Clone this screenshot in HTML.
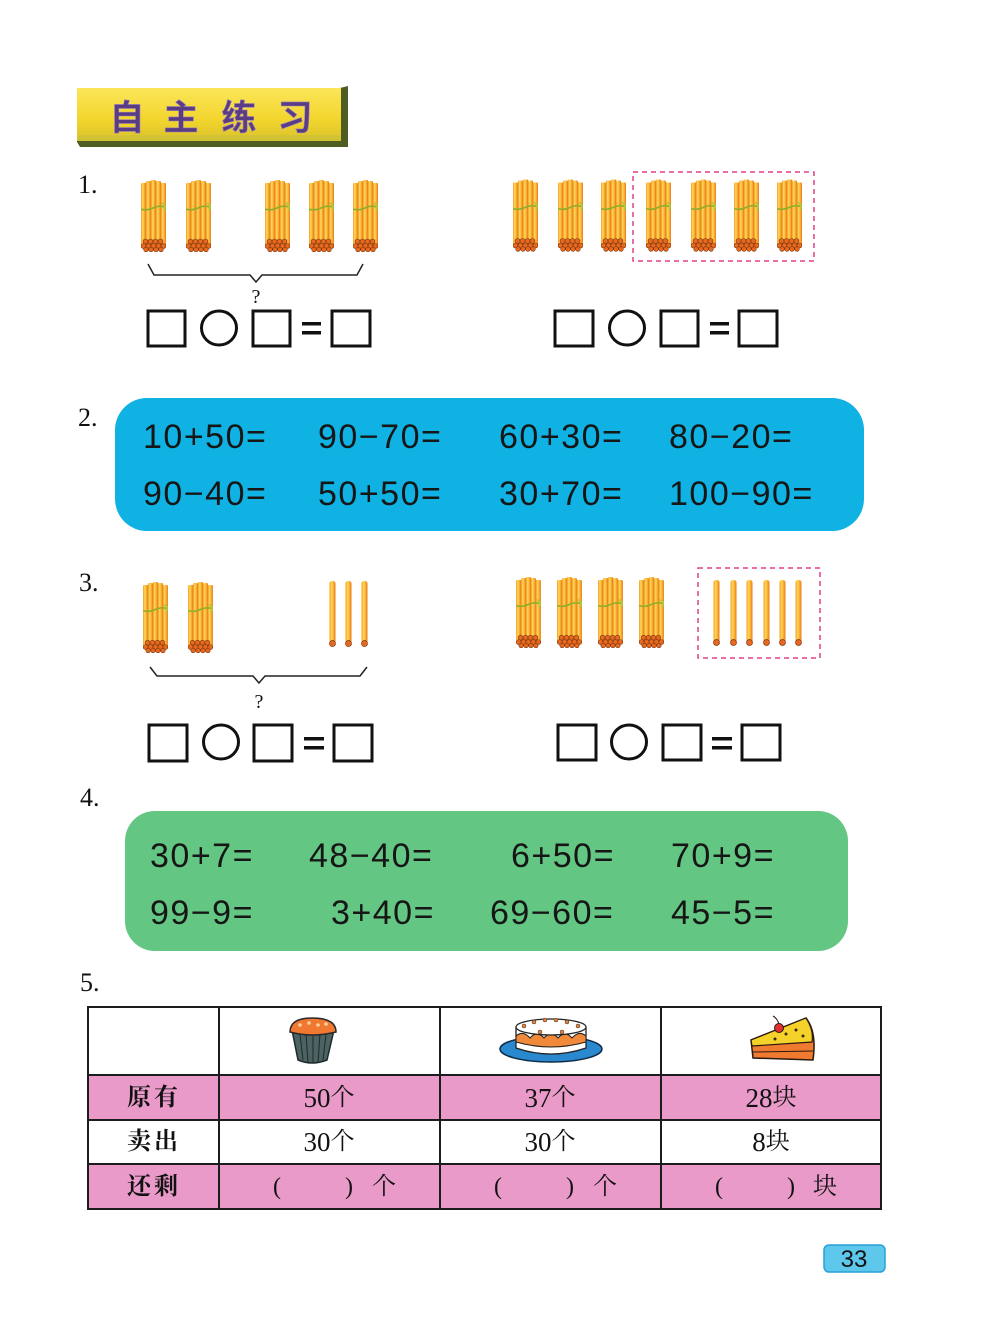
<!DOCTYPE html>
<html><head><meta charset="utf-8"><style>
html,body{margin:0;padding:0;background:#fff;}
svg{display:block;}
</style></head><body>
<svg width="1000" height="1336" viewBox="0 0 1000 1336" xmlns="http://www.w3.org/2000/svg">
<defs>
<linearGradient id="sg" x1="0" x2="1" y1="0" y2="0">
<stop offset="0" stop-color="#f29a22"/><stop offset="0.35" stop-color="#ffd85a"/><stop offset="0.7" stop-color="#f7aa2c"/><stop offset="1" stop-color="#e6781c"/>
</linearGradient>
<linearGradient id="ty" x1="0" x2="0" y1="0" y2="1">
<stop offset="0" stop-color="#fbe659"/><stop offset="0.6" stop-color="#f3d52e"/><stop offset="1" stop-color="#d9c22a"/>
</linearGradient>
<symbol id="bun" viewBox="0 0 25 72">
<rect x="0" y="3" width="25" height="62" rx="2" fill="#f3a02a"/>
<rect x="0" y="3" width="5" height="62" rx="1" fill="url(#sg)"/>
<rect x="5" y="1" width="5" height="64" rx="1" fill="url(#sg)"/>
<rect x="10" y="0" width="5" height="65" rx="1" fill="url(#sg)"/>
<rect x="15" y="1" width="5" height="64" rx="1" fill="url(#sg)"/>
<rect x="20" y="3" width="5" height="62" rx="1" fill="url(#sg)"/>
<path d="M0 29 Q6 31 12 28 T24 27" stroke="#8fae2a" stroke-width="1.6" fill="none"/>
<path d="M21 23 q5 2 2 8" stroke="#b5c83a" stroke-width="1.8" fill="none"/>
<g fill="#e8681e" stroke="#7a3510" stroke-width="0.6">
<circle cx="4.5" cy="61.5" r="2.5"/><circle cx="9.5" cy="61.5" r="2.5"/><circle cx="14.5" cy="61.5" r="2.5"/><circle cx="19.5" cy="61.5" r="2.5"/>
<circle cx="2.5" cy="66" r="2.5"/><circle cx="7.5" cy="66" r="2.5"/><circle cx="12.5" cy="66" r="2.5"/><circle cx="17.5" cy="66" r="2.5"/><circle cx="22.5" cy="66" r="2.5"/>
<circle cx="5" cy="69.5" r="2.3"/><circle cx="10" cy="69.5" r="2.3"/><circle cx="15" cy="69.5" r="2.3"/><circle cx="20" cy="69.5" r="2.3"/>
</g>
</symbol>
<symbol id="stk" viewBox="0 0 7 66">
<rect x="0.5" y="0" width="6" height="63" rx="2.5" fill="url(#sg)"/>
<circle cx="3.5" cy="62.5" r="3" fill="#e8681e" stroke="#7a3510" stroke-width="0.7"/>
</symbol>
</defs>

<!-- Title banner -->
<polygon points="77,88 340,88 348,86 348,147 80,147 77,142" fill="#4f5d22"/>
<rect x="77" y="88" width="264" height="53" fill="url(#ty)"/>
<rect x="77" y="135" width="264" height="6" fill="#c9c23a" opacity="0.6"/>
<g font-family="'Noto Sans CJK SC','WenQuanYi Zen Hei',sans-serif" font-weight="bold" font-size="35" fill="#5a3c85" stroke="#9a80c0" stroke-width="0.6">
<text x="127" y="130" text-anchor="middle">自</text>
<text x="181" y="130" text-anchor="middle">主</text>
<text x="239" y="130" text-anchor="middle">练</text>
<text x="295" y="130" text-anchor="middle">习</text>
</g>

<!-- Numbers -->
<g font-family="'Liberation Serif',serif" font-size="26" fill="#111">
<text x="78" y="193">1.</text>
<text x="78" y="426">2.</text>
<text x="79" y="591">3.</text>
<text x="80" y="806">4.</text>
<text x="80" y="991">5.</text>
</g>

<!-- Item 1 left -->
<use href="#bun" x="141" y="180" width="25" height="72"/>
<use href="#bun" x="186" y="180" width="25" height="72"/>
<use href="#bun" x="265" y="180" width="25" height="72"/>
<use href="#bun" x="309" y="180" width="25" height="72"/>
<use href="#bun" x="353" y="180" width="25" height="72"/>
<path d="M148 264 L154 275 L250 275 L256 282 L262 275 L357 275 L363 264" stroke="#222" stroke-width="1.5" fill="none"/>
<text x="256" y="303" font-family="'Liberation Serif',serif" font-size="20" text-anchor="middle" fill="#111">?</text>

<g stroke="#111" stroke-width="3" fill="none">
<rect x="148" y="311" width="37" height="35"/>
<ellipse cx="219" cy="328" rx="17.5" ry="17"/>
<rect x="253" y="311" width="37" height="35"/>
<rect x="332" y="311" width="38" height="35"/>
</g>
<rect x="302" y="322" width="19" height="3.5" fill="#111"/>
<rect x="302" y="331" width="19" height="3.5" fill="#111"/>

<!-- Item 1 right -->
<use href="#bun" x="513" y="179" width="25" height="73"/>
<use href="#bun" x="558" y="179" width="25" height="73"/>
<use href="#bun" x="601" y="179" width="25" height="73"/>
<use href="#bun" x="646" y="179" width="25" height="73"/>
<use href="#bun" x="691" y="179" width="25" height="73"/>
<use href="#bun" x="734" y="179" width="25" height="73"/>
<use href="#bun" x="777" y="179" width="25" height="73"/>
<rect x="633" y="172" width="181" height="89" fill="none" stroke="#e0408a" stroke-width="1.5" stroke-dasharray="5 4"/>
<g stroke="#111" stroke-width="3" fill="none">
<rect x="555" y="311" width="38" height="35"/>
<ellipse cx="627" cy="328" rx="17.5" ry="17"/>
<rect x="661" y="311" width="37" height="35"/>
<rect x="739" y="311" width="38" height="35"/>
</g>
<rect x="710" y="322" width="19" height="3.5" fill="#111"/>
<rect x="710" y="331" width="19" height="3.5" fill="#111"/>

<!-- Blue box -->
<rect x="115" y="398" width="749" height="133" rx="32" fill="#0fb2e3"/>
<g font-family="'Liberation Sans',sans-serif" font-size="34" fill="#161616" letter-spacing="1.5">
<text x="143" y="448">10+50=</text>
<text x="318" y="448">90−70=</text>
<text x="499" y="448">60+30=</text>
<text x="669" y="448">80−20=</text>
<text x="143" y="505">90−40=</text>
<text x="318" y="505">50+50=</text>
<text x="499" y="505">30+70=</text>
<text x="669" y="505">100−90=</text>
</g>

<!-- Item 3 left -->
<use href="#bun" x="143" y="582" width="25" height="71"/>
<use href="#bun" x="188" y="582" width="25" height="71"/>
<use href="#stk" x="329" y="581" width="7" height="66"/>
<use href="#stk" x="345" y="581" width="7" height="66"/>
<use href="#stk" x="361" y="581" width="7" height="66"/>
<path d="M150 667 L157 676 L253 676 L259 683 L265 676 L360 676 L367 667" stroke="#222" stroke-width="1.5" fill="none"/>
<text x="259" y="708" font-family="'Liberation Serif',serif" font-size="20" text-anchor="middle" fill="#111">?</text>
<g stroke="#111" stroke-width="3" fill="none">
<rect x="149" y="725" width="38" height="36"/>
<ellipse cx="221" cy="742" rx="17.5" ry="17"/>
<rect x="254" y="725" width="38" height="36"/>
<rect x="334" y="725" width="38" height="36"/>
</g>
<rect x="304" y="737" width="20" height="3.5" fill="#111"/>
<rect x="304" y="746" width="20" height="3.5" fill="#111"/>

<!-- Item 3 right -->
<use href="#bun" x="516" y="577" width="25" height="71"/>
<use href="#bun" x="557" y="577" width="25" height="71"/>
<use href="#bun" x="598" y="577" width="25" height="71"/>
<use href="#bun" x="639" y="577" width="25" height="71"/>
<rect x="698" y="568" width="122" height="90" fill="none" stroke="#e0408a" stroke-width="1.5" stroke-dasharray="5 4"/>
<use href="#stk" x="713" y="580" width="7" height="66"/>
<use href="#stk" x="730" y="580" width="7" height="66"/>
<use href="#stk" x="746" y="580" width="7" height="66"/>
<use href="#stk" x="763" y="580" width="7" height="66"/>
<use href="#stk" x="779" y="580" width="7" height="66"/>
<use href="#stk" x="795" y="580" width="7" height="66"/>
<g stroke="#111" stroke-width="3" fill="none">
<rect x="558" y="725" width="38" height="35"/>
<ellipse cx="629" cy="742" rx="17.5" ry="17"/>
<rect x="663" y="725" width="38" height="35"/>
<rect x="742" y="725" width="38" height="35"/>
</g>
<rect x="712" y="737" width="20" height="3.5" fill="#111"/>
<rect x="712" y="746" width="20" height="3.5" fill="#111"/>

<!-- Green box -->
<rect x="125" y="811" width="723" height="140" rx="30" fill="#63c683"/>
<g font-family="'Liberation Sans',sans-serif" font-size="34" fill="#161616" letter-spacing="1.5">
<text x="150" y="867">30+7=</text>
<text x="309" y="867">48−40=</text>
<text x="511" y="867">6+50=</text>
<text x="671" y="867">70+9=</text>
<text x="150" y="924">99−9=</text>
<text x="331" y="924">3+40=</text>
<text x="490" y="924">69−60=</text>
<text x="671" y="924">45−5=</text>
</g>

<!-- Table -->
<rect x="88" y="1075" width="794" height="45" fill="#ea9ac9"/>
<rect x="88" y="1164" width="794" height="46" fill="#ea9ac9"/>
<g stroke="#1c1c1c" stroke-width="2" fill="none">
<rect x="88" y="1007" width="793" height="202"/>
<line x1="88" y1="1075" x2="881" y2="1075"/>
<line x1="88" y1="1120" x2="881" y2="1120"/>
<line x1="88" y1="1164" x2="881" y2="1164"/>
<line x1="219" y1="1007" x2="219" y2="1209"/>
<line x1="440" y1="1007" x2="440" y2="1209"/>
<line x1="661" y1="1007" x2="661" y2="1209"/>
</g>
<g font-family="'Liberation Serif','Noto Serif CJK SC',serif" font-size="24" fill="#111" text-anchor="middle" dominant-baseline="central">
<text x="154" y="1098" letter-spacing="3" font-weight="bold">原有</text>
<text x="154" y="1142" letter-spacing="3" font-weight="bold">卖出</text>
<text x="154" y="1187" letter-spacing="3" font-weight="bold">还剩</text>
<text x="329" y="1098"><tspan font-size="27">50</tspan>个</text>
<text x="550" y="1098"><tspan font-size="27">37</tspan>个</text>
<text x="771" y="1098"><tspan font-size="27">28</tspan>块</text>
<text x="329" y="1142"><tspan font-size="27">30</tspan>个</text>
<text x="550" y="1142"><tspan font-size="27">30</tspan>个</text>
<text x="771" y="1142"><tspan font-size="27">8</tspan>块</text>
</g>
<g font-family="'Liberation Serif','Noto Serif CJK SC',serif" font-size="24" fill="#111" dominant-baseline="central">
<text x="273" y="1187">(</text><text x="345" y="1187">)</text><text x="372" y="1187">个</text>
<text x="494" y="1187">(</text><text x="566" y="1187">)</text><text x="593" y="1187">个</text>
<text x="715" y="1187">(</text><text x="787" y="1187">)</text><text x="813" y="1187">块</text>
</g>

<!-- Cupcake -->
<path d="M292 1030 L298 1060 Q312 1066 327 1060 L334 1030 Z" fill="#4d6262" stroke="#1c2a2a" stroke-width="1.5"/>
<g stroke="#1c2a2a" stroke-width="1"><line x1="300" y1="1034" x2="303" y2="1060"/><line x1="306" y1="1034" x2="308" y2="1062"/><line x1="313" y1="1034" x2="313" y2="1063"/><line x1="320" y1="1034" x2="318" y2="1062"/><line x1="326" y1="1034" x2="323" y2="1060"/></g>
<path d="M290 1032 Q290 1018 312 1018 Q336 1018 336 1032 Q312 1038 290 1032 Z" fill="#f07830" stroke="#2a2a2a" stroke-width="1.5"/>
<g fill="#fbd3a0"><circle cx="300" cy="1025" r="1.8"/><circle cx="309" cy="1023" r="1.8"/><circle cx="318" cy="1025" r="1.8"/><circle cx="326" cy="1024" r="1.8"/></g>

<!-- Cake -->
<ellipse cx="551" cy="1049" rx="51" ry="13" fill="#2a88cf" stroke="#0e2c48" stroke-width="1.5"/>
<path d="M516 1028 L516 1048 Q551 1060 586 1048 L586 1028 Z" fill="#fff" stroke="#222" stroke-width="1.3"/>
<path d="M516 1036 Q523 1030 530 1038 Q537 1030 544 1038 Q551 1030 558 1038 Q565 1030 572 1038 Q579 1030 586 1036 L586 1042 Q551 1052 516 1042 Z" fill="#f08a3a" stroke="#222" stroke-width="1"/>
<ellipse cx="551" cy="1027" rx="35" ry="8" fill="#fff" stroke="#222" stroke-width="1.3"/>
<g fill="#e8803a" stroke="#333" stroke-width="0.5"><circle cx="524" cy="1026" r="2"/><circle cx="534" cy="1022" r="2"/><circle cx="545" cy="1020" r="2"/><circle cx="556" cy="1020" r="2"/><circle cx="567" cy="1022" r="2"/><circle cx="578" cy="1026" r="2"/><circle cx="540" cy="1032" r="2"/><circle cx="562" cy="1032" r="2"/></g>

<!-- Pie slice -->
<path d="M751 1040 L806 1018 Q817 1032 813 1060 L753 1058 Z" fill="#f07b30" stroke="#2a1a10" stroke-width="1.5"/>
<path d="M751 1040 L806 1018 Q814 1030 812 1042 L752 1046 Z" fill="#f5d22a" stroke="#2a1a10" stroke-width="1.2"/>
<line x1="752" y1="1052" x2="813" y2="1051" stroke="#2a1a10" stroke-width="1"/>
<g fill="#3a2a10"><circle cx="786" cy="1034" r="1.5"/><circle cx="796" cy="1030" r="1.5"/><circle cx="803" cy="1036" r="1.5"/><circle cx="775" cy="1039" r="1.5"/></g>
<circle cx="779" cy="1028" r="4.5" fill="#e23030" stroke="#2a1a10" stroke-width="1"/>
<path d="M779 1024 Q777 1018 773 1016" stroke="#2a1a10" stroke-width="1" fill="none"/>

<!-- Page number -->
<rect x="824" y="1245" width="61" height="27" rx="5" fill="#5ec8ec" stroke="#2a9fd6" stroke-width="1.5"/>
<text x="854" y="1267" font-family="'Liberation Sans',sans-serif" font-size="24" text-anchor="middle" fill="#111">33</text>
</svg>
</body></html>
